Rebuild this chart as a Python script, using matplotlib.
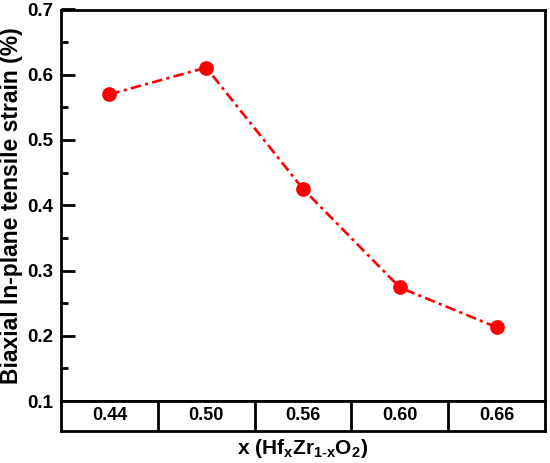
import numpy as np
import matplotlib
matplotlib.use("Agg")
import matplotlib.pyplot as plt
from matplotlib.ticker import MultipleLocator

# font
plt.rcParams['font.family'] = ['Liberation Sans', 'DejaVu Sans']
plt.rcParams['font.weight'] = 'bold'
plt.rcParams['mathtext.fontset'] = 'custom'
plt.rcParams['mathtext.rm'] = 'Liberation Sans:bold'
plt.rcParams['mathtext.bf'] = 'Liberation Sans:bold'
plt.rcParams['mathtext.it'] = 'Liberation Sans:bold'

# data
compositions = ["0.44", "0.50", "0.56", "0.60", "0.66"]
strain = [0.570, 0.611, 0.425, 0.274, 0.213]

xpos = np.arange(len(compositions))
lw = 2.0

fig = plt.figure(figsize=(5.5, 4.63), dpi=100, facecolor="white")
ax = fig.add_axes([61/550, 1-401/463, 484/550, 391.5/463])
tab = fig.add_axes([61/550, 1-431/463, 484/550, 30/463])

# main plot
ax.plot(xpos, strain, color="#ff0000", linestyle=(0, (4, 1.6, 1.2, 1.6)),
        linewidth=1.9, marker="o", markersize=10.6, markeredgewidth=0)
ax.set_xlim(-0.5, len(compositions)-0.5)
ax.set_ylim(0.1, 0.7)
ax.yaxis.set_major_locator(MultipleLocator(0.1))
ax.yaxis.set_minor_locator(MultipleLocator(0.05))
ax.tick_params(axis="y", which="major", direction="in", length=10,
               width=lw, labelsize=13.5, pad=5.5)
ax.tick_params(axis="y", which="minor", direction="in", length=5, width=lw)
ax.set_xticks([])
for s in ax.spines.values():
    s.set_linewidth(lw)
ax.set_ylabel("Biaxial In-plane tensile strain (%)", fontsize=16.5,
              fontweight="bold", labelpad=3)

# category table below
tab.set_xlim(-0.5, len(compositions)-0.5)
tab.set_ylim(0, 1)
tab.set_xticks([])
tab.set_yticks([])
for s in tab.spines.values():
    s.set_linewidth(lw)
for b in xpos[:-1] + 0.5:
    tab.axvline(b, color="black", linewidth=lw)
for i, lab in enumerate(compositions):
    tab.text(xpos[i], 0.5, lab, ha="center", va="center",
             fontsize=13, fontweight="bold")
tab.set_xlabel(r"x (Hf$_\mathbf{x}$Zr$_\mathbf{1\text{-}x}$O$_\mathbf{2}$)",
               fontsize=15, fontweight="bold", labelpad=4)

fig.savefig("out.png", dpi=100)
